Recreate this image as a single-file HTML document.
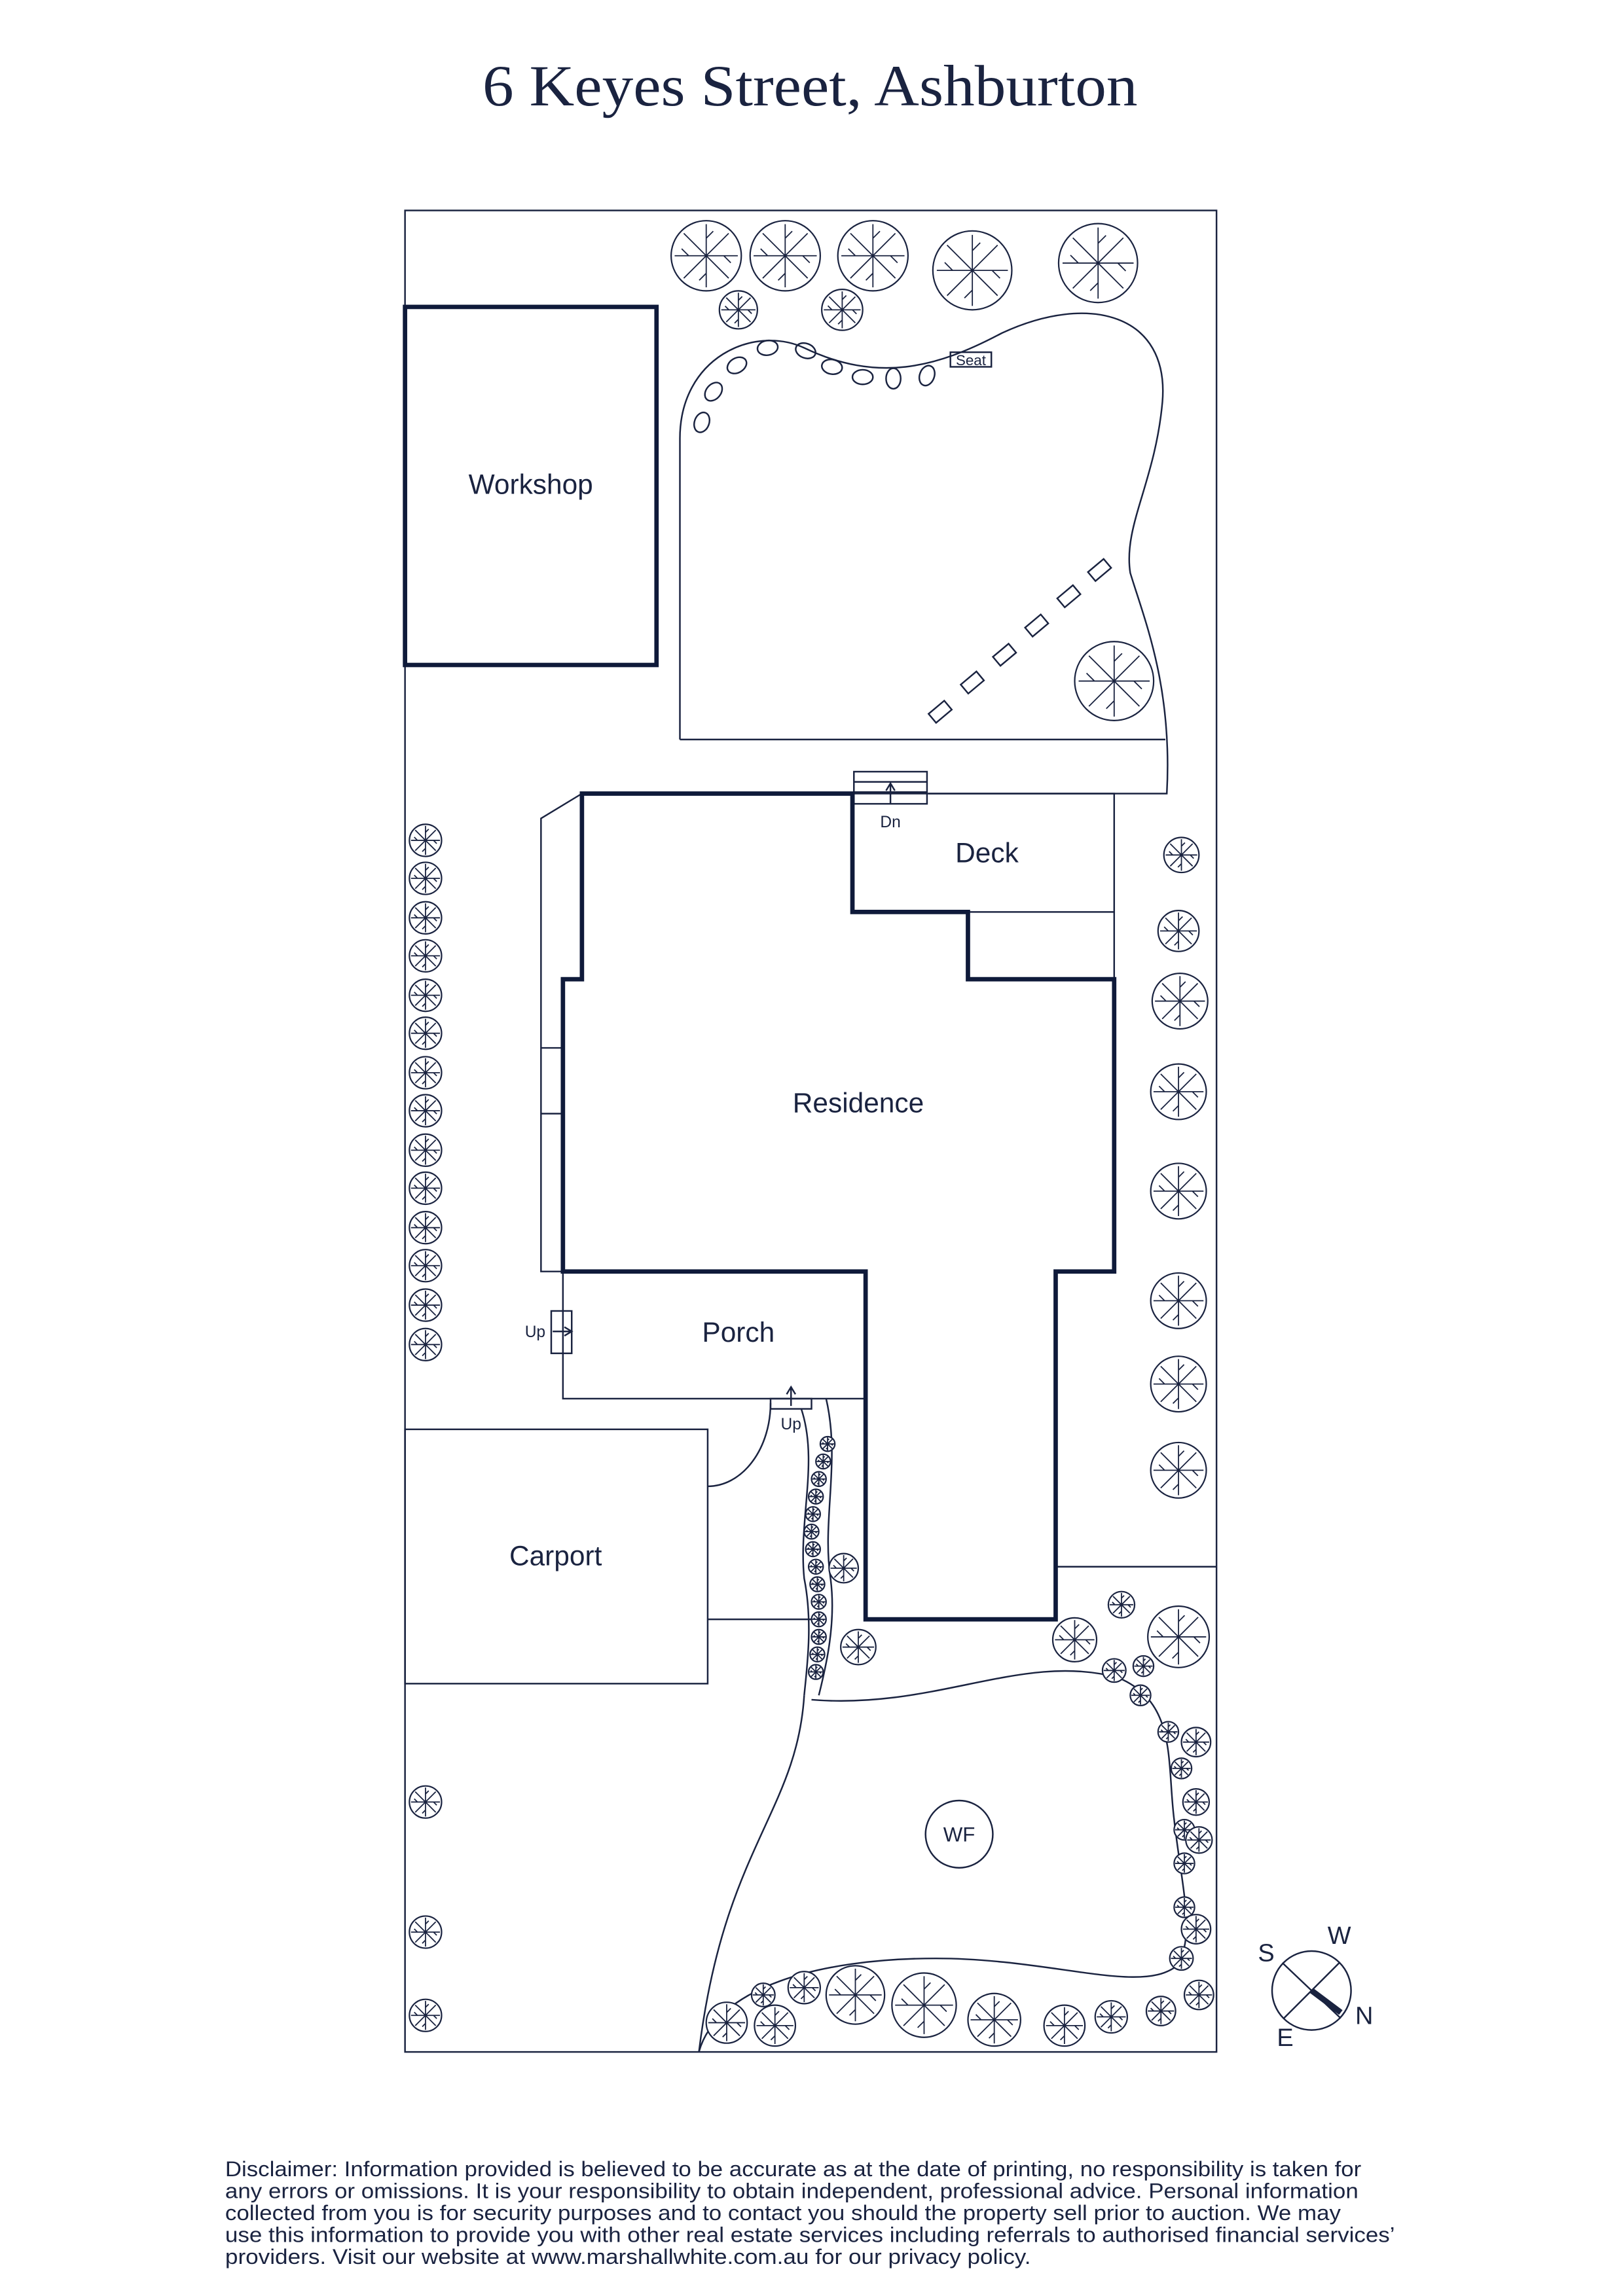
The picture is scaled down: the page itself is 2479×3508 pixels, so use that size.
<!DOCTYPE html>
<html><head><meta charset="utf-8"><style>
html,body{margin:0;padding:0;background:#fff;}
svg{display:block;}
</style></head><body>
<svg width="2479" height="3508" viewBox="0 0 1110 1571" preserveAspectRatio="none" xmlns="http://www.w3.org/2000/svg">
<defs>
<g id="t">
<circle r="1" fill="#fff" stroke="#1a2340" stroke-width="2.2" vector-effect="non-scaling-stroke"/>
<path d="M0,0L0,-0.9M0,0L0.64,-0.64M0,0L0.9,0M0,0L0.64,0.64M0,0L0,0.9M0,0L-0.64,0.64M0,0L-0.9,0M0,0L-0.64,-0.64M0,-0.5L0.2,-0.7M0.5,0L0.7,0.2M0,0.5L-0.2,0.7M-0.5,0L-0.7,-0.2" stroke="#1a2340" stroke-width="1.8" vector-effect="non-scaling-stroke" fill="none"/>
</g>
</defs>
<g font-family="Liberation Sans, sans-serif" fill="#1a2340">
<text x="330" y="72" font-family="Liberation Serif, serif" font-size="40" textLength="448" lengthAdjust="spacingAndGlyphs">6 Keyes Street, Ashburton</text>
</g>
<g fill="none" stroke="#1a2340" stroke-width="1.1">
<rect x="277" y="144" width="555" height="1260"/>
<path d="M465,506 L465,300 C465,245 515,222 550,238 C600,262 640,252 685,228 C745,200 800,215 795,275 C790,330 768,360 773,392 C783,425 802,470 798,543 L635,543"/>
<line x1="465" y1="506" x2="797" y2="506"/>
<rect x="583" y="543" width="179" height="81"/>
<line x1="762" y1="624" x2="762" y2="670"/>
<rect x="584" y="528" width="50" height="22"/>
<line x1="584" y1="535" x2="634" y2="535"/><line x1="584" y1="542" x2="634" y2="542"/>
<path d="M398,543 L370,560 L370,870 L385,870"/>
<line x1="370" y1="717" x2="385" y2="717"/><line x1="370" y1="762" x2="385" y2="762"/>
<rect x="385" y="870" width="207" height="87"/>
<rect x="377" y="897" width="14" height="29"/>
<rect x="527" y="957" width="28" height="7"/>
<rect x="277" y="978" width="207" height="174"/>
<path d="M484,1017 A43,57 0 0 0 527,960"/>
<line x1="484" y1="1108" x2="555" y2="1108"/>
<path d="M565,957 C575,1000 562,1040 568,1080 C572,1110 565,1140 560,1160"/>
<path d="M548,964 C560,1000 546,1040 550,1080 C556,1110 552,1140 550,1160"/>
<line x1="722" y1="1072" x2="832" y2="1072"/>
<path d="M555,1163 C640,1170 700,1130 765,1148 C805,1165 798,1205 803,1245 C808,1290 818,1325 805,1345 C780,1365 720,1340 640,1340 C560,1340 490,1360 478,1404"/>
<path d="M550,1160 C545,1240 495,1265 478,1404"/>
<circle cx="656" cy="1255" r="23"/>
<rect x="650" y="241" width="28" height="10"/>
<g>
<ellipse cx="480" cy="289" rx="5" ry="7" transform="rotate(20 480 289)"/>
<ellipse cx="488" cy="268" rx="5" ry="7" transform="rotate(40 488 268)"/>
<ellipse cx="504" cy="250" rx="5" ry="7" transform="rotate(60 504 250)"/>
<ellipse cx="525" cy="238" rx="5" ry="7" transform="rotate(80 525 238)"/>
<ellipse cx="551" cy="240" rx="5" ry="7" transform="rotate(110 551 240)"/>
<ellipse cx="569" cy="251" rx="5" ry="7" transform="rotate(100 569 251)"/>
<ellipse cx="590" cy="258" rx="5" ry="7" transform="rotate(90 590 258)"/>
<ellipse cx="611" cy="259" rx="5" ry="7"/>
<ellipse cx="634" cy="257" rx="5" ry="7" transform="rotate(20 634 257)"/>
</g>
<g>
<rect x="-7" y="-4" width="14" height="8" transform="translate(643,487) rotate(-40)"/>
<rect x="-7" y="-4" width="14" height="8" transform="translate(665,467) rotate(-40)"/>
<rect x="-7" y="-4" width="14" height="8" transform="translate(687,448) rotate(-40)"/>
<rect x="-7" y="-4" width="14" height="8" transform="translate(709,428) rotate(-40)"/>
<rect x="-7" y="-4" width="14" height="8" transform="translate(731,408) rotate(-40)"/>
<rect x="-7" y="-4" width="14" height="8" transform="translate(752,390) rotate(-40)"/>
</g>
<path d="M609,550 L609,537 M606,541 L609,536 L612,541"/>
<path d="M378,911 L390,911 M386,908 L391,911 L386,914"/>
<path d="M541,962 L541,950 M538,954 L541,949 L544,954"/>
<circle cx="897" cy="1362" r="27"/>
<line x1="877" y1="1343" x2="917" y2="1381"/>
<line x1="878" y1="1381" x2="916" y2="1343"/>
</g>
<line x1="897" y1="1362" x2="917" y2="1377" stroke="#1a2340" stroke-width="4"/>
<g fill="none" stroke="#0f1a3a" stroke-width="3">
<rect x="277" y="210" width="172" height="245"/>
<path d="M398,543 L583,543 L583,624 L662,624 L662,670 L762,670 L762,870 L722,870 L722,1108 L592,1108 L592,870 L385,870 L385,670 L398,670 Z"/>
</g>
<g fill="#1a2340" font-family="Liberation Sans, sans-serif">
<text x="363" y="338" font-size="19" text-anchor="middle">Workshop</text>
<text x="675" y="590" font-size="19" text-anchor="middle">Deck</text>
<text x="587" y="761" font-size="19" text-anchor="middle">Residence</text>
<text x="505" y="918" font-size="19" text-anchor="middle">Porch</text>
<text x="380" y="1071" font-size="19" text-anchor="middle">Carport</text>
<text x="656" y="1260" font-size="14" text-anchor="middle">WF</text>
<text x="664" y="250" font-size="10" text-anchor="middle">Seat</text>
<text x="609" y="566" font-size="11" text-anchor="middle">Dn</text>
<text x="366" y="915" font-size="11" text-anchor="middle">Up</text>
<text x="541" y="978" font-size="11" text-anchor="middle">Up</text>
<text x="866" y="1342" font-size="17" text-anchor="middle">S</text>
<text x="916" y="1330" font-size="17" text-anchor="middle">W</text>
<text x="933" y="1385" font-size="17" text-anchor="middle">N</text>
<text x="879" y="1400" font-size="17" text-anchor="middle">E</text>
<g font-size="14.6">
<text x="154" y="1489" textLength="777" lengthAdjust="spacingAndGlyphs">Disclaimer: Information provided is believed to be accurate as at the date of printing, no responsibility is taken for</text>
<text x="154" y="1504" textLength="775" lengthAdjust="spacingAndGlyphs">any errors or omissions. It is your responsibility to obtain independent, professional advice. Personal information</text>
<text x="154" y="1519" textLength="763" lengthAdjust="spacingAndGlyphs">collected from you is for security purposes and to contact you should the property sell prior to auction. We may</text>
<text x="154" y="1534" textLength="800" lengthAdjust="spacingAndGlyphs">use this information to provide you with other real estate services including referrals to authorised financial services’</text>
<text x="154" y="1549" textLength="551" lengthAdjust="spacingAndGlyphs">providers. Visit our website at www.marshallwhite.com.au for our privacy policy.</text>
</g>
</g>
<g>
<use href="#t" transform="translate(483,175) scale(24)"/>
<use href="#t" transform="translate(537,175) scale(24)"/>
<use href="#t" transform="translate(597,175) scale(24)"/>
<use href="#t" transform="translate(665,185) scale(27)"/>
<use href="#t" transform="translate(751,180) scale(27)"/>
<use href="#t" transform="translate(505,212) scale(13)"/>
<use href="#t" transform="translate(576,212) scale(14)"/>
<use href="#t" transform="translate(762,466) scale(27)"/>
<use href="#t" transform="translate(291,575) scale(11)"/>
<use href="#t" transform="translate(291,601) scale(11)"/>
<use href="#t" transform="translate(291,628) scale(11)"/>
<use href="#t" transform="translate(291,654) scale(11)"/>
<use href="#t" transform="translate(291,681) scale(11)"/>
<use href="#t" transform="translate(291,707) scale(11)"/>
<use href="#t" transform="translate(291,734) scale(11)"/>
<use href="#t" transform="translate(291,760) scale(11)"/>
<use href="#t" transform="translate(291,787) scale(11)"/>
<use href="#t" transform="translate(291,813) scale(11)"/>
<use href="#t" transform="translate(291,840) scale(11)"/>
<use href="#t" transform="translate(291,866) scale(11)"/>
<use href="#t" transform="translate(291,893) scale(11)"/>
<use href="#t" transform="translate(291,920) scale(11)"/>
<use href="#t" transform="translate(291,1233) scale(11)"/>
<use href="#t" transform="translate(291,1322) scale(11)"/>
<use href="#t" transform="translate(291,1379) scale(11)"/>
<use href="#t" transform="translate(808,585) scale(12)"/>
<use href="#t" transform="translate(806,637) scale(14)"/>
<use href="#t" transform="translate(807,685) scale(19)"/>
<use href="#t" transform="translate(806,747) scale(19)"/>
<use href="#t" transform="translate(806,815) scale(19)"/>
<use href="#t" transform="translate(806,890) scale(19)"/>
<use href="#t" transform="translate(806,947) scale(19)"/>
<use href="#t" transform="translate(806,1006) scale(19)"/>
<use href="#t" transform="translate(566,988) scale(5)"/>
<use href="#t" transform="translate(563,1000) scale(5)"/>
<use href="#t" transform="translate(560,1012) scale(5)"/>
<use href="#t" transform="translate(558,1024) scale(5)"/>
<use href="#t" transform="translate(556,1036) scale(5)"/>
<use href="#t" transform="translate(555,1048) scale(5)"/>
<use href="#t" transform="translate(556,1060) scale(5)"/>
<use href="#t" transform="translate(558,1072) scale(5)"/>
<use href="#t" transform="translate(559,1084) scale(5)"/>
<use href="#t" transform="translate(560,1096) scale(5)"/>
<use href="#t" transform="translate(560,1108) scale(5)"/>
<use href="#t" transform="translate(560,1120) scale(5)"/>
<use href="#t" transform="translate(559,1132) scale(5)"/>
<use href="#t" transform="translate(558,1144) scale(5)"/>
<use href="#t" transform="translate(577,1073) scale(10)"/>
<use href="#t" transform="translate(587,1127) scale(12)"/>
<use href="#t" transform="translate(735,1122) scale(15)"/>
<use href="#t" transform="translate(767,1098) scale(9)"/>
<use href="#t" transform="translate(806,1120) scale(21)"/>
<use href="#t" transform="translate(762,1143) scale(8)"/>
<use href="#t" transform="translate(782,1140) scale(7)"/>
<use href="#t" transform="translate(780,1160) scale(7)"/>
<use href="#t" transform="translate(799,1185) scale(7)"/>
<use href="#t" transform="translate(818,1192) scale(10)"/>
<use href="#t" transform="translate(808,1210) scale(7)"/>
<use href="#t" transform="translate(818,1233) scale(9)"/>
<use href="#t" transform="translate(810,1252) scale(7)"/>
<use href="#t" transform="translate(820,1259) scale(9)"/>
<use href="#t" transform="translate(810,1275) scale(7)"/>
<use href="#t" transform="translate(810,1305) scale(7)"/>
<use href="#t" transform="translate(818,1320) scale(10)"/>
<use href="#t" transform="translate(808,1340) scale(8)"/>
<use href="#t" transform="translate(820,1365) scale(10)"/>
<use href="#t" transform="translate(794,1376) scale(10)"/>
<use href="#t" transform="translate(760,1380) scale(11)"/>
<use href="#t" transform="translate(728,1386) scale(14)"/>
<use href="#t" transform="translate(680,1382) scale(18)"/>
<use href="#t" transform="translate(632,1372) scale(22)"/>
<use href="#t" transform="translate(585,1365) scale(20)"/>
<use href="#t" transform="translate(550,1360) scale(11)"/>
<use href="#t" transform="translate(522,1365) scale(8)"/>
<use href="#t" transform="translate(530,1386) scale(14)"/>
<use href="#t" transform="translate(497,1384) scale(14)"/>
</g>
</svg>
</body></html>
